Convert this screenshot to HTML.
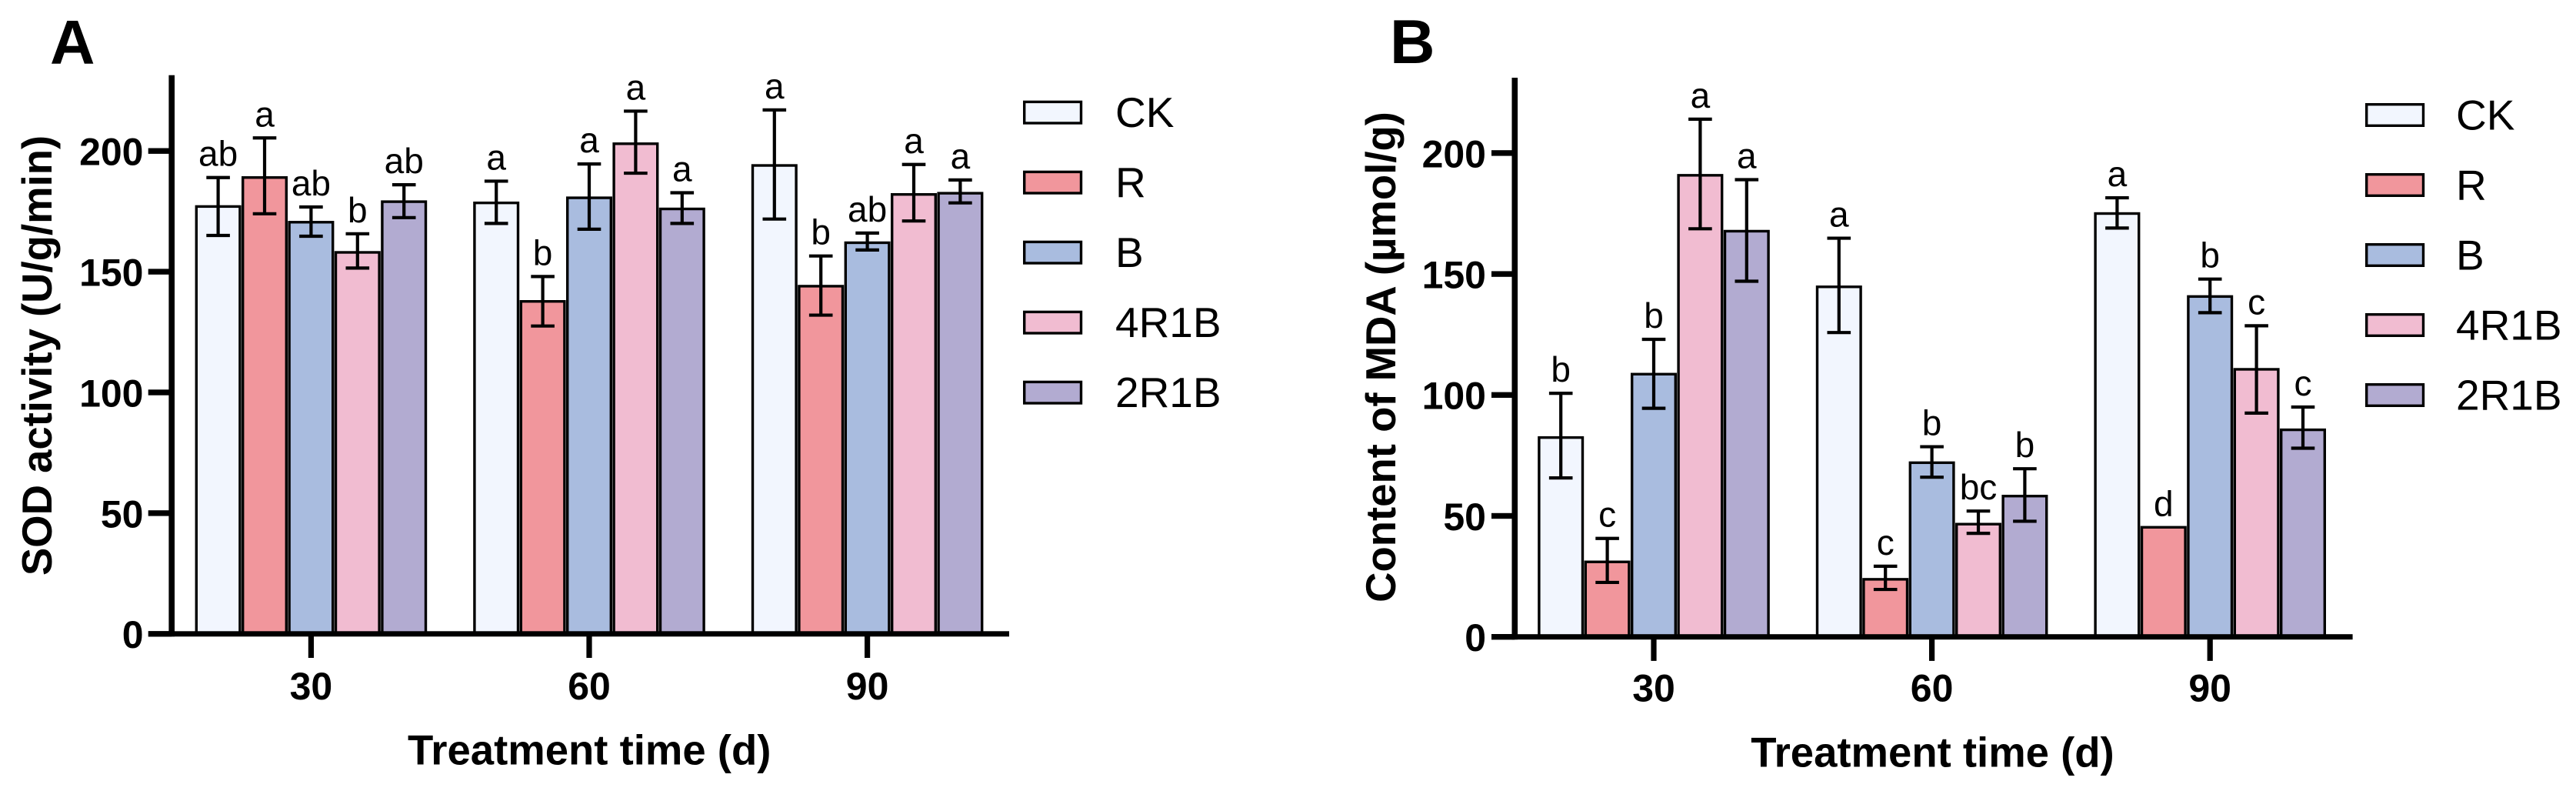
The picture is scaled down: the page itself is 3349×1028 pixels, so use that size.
<!DOCTYPE html>
<html>
<head>
<meta charset="utf-8">
<style>
html,body{margin:0;padding:0;background:#fff;width:3349px;height:1028px;overflow:hidden}
svg{display:block;font-family:"Liberation Sans",Arial,sans-serif}
</style>
</head>
<body>
<svg id="figure" xmlns="http://www.w3.org/2000/svg" width="3349" height="1028" viewBox="0 0 3349 1028"></svg>
<script>
const groups = ["30", "60", "90"];
const seriesNames = ["CK", "R", "B", "4R1B", "2R1B"];
const seriesColors = ["#f2f6fe", "#f1969c", "#a9bcdf", "#f1bcd1", "#b2abd1"];
const yTicks = [0, 50, 100, 150, 200];

/* SOD activity: one row per series, one column per treatment time */
const sodValues = [
  [177, 178.5, 194],
  [189, 137.7, 144],
  [170.5, 180.6, 162],
  [158, 203, 182],
  [179, 176, 182.5]
];
const sodHigh = [
  [189, 187.5, 217],
  [205.4, 148, 156.5],
  [176.8, 194.6, 166],
  [165.7, 216.5, 194.4],
  [186, 182.7, 188]
];
const sodLow = [
  [165, 170, 171.8],
  [174, 127.5, 132],
  [164.7, 167.6, 159],
  [151.5, 190.8, 171],
  [172.4, 170, 178.5]
];
const sodLetters = [
  ["ab", "a", "a"],
  ["a", "b", "b"],
  ["ab", "a", "ab"],
  ["b", "a", "a"],
  ["ab", "a", "a"]
];

/* MDA content: one row per series, one column per treatment time */
const mdaValues = [
  [82.4, 144.7, 175],
  [31, 23.8, 45.3],
  [108.6, 72, 140.7],
  [190.8, 46.6, 110.6],
  [167.7, 58.2, 85.6]
];
const mdaHigh = [
  [100.7, 164.8, 181.5],
  [40.7, 29.2, 45.3],
  [123, 78.6, 147.9],
  [214, 52, 128.6],
  [189, 69.5, 95]
];
const mdaLow = [
  [65.7, 125.8, 169],
  [22.5, 19.6, 45.3],
  [94.5, 66, 134],
  [168.7, 42.8, 92.5],
  [147, 47.8, 78]
];
const mdaLetters = [
  ["b", "a", "a"],
  ["c", "c", "d"],
  ["b", "b", "b"],
  ["a", "bc", "c"],
  ["a", "b", "c"]
];

const svg = document.getElementById("figure");
const NS = "http://www.w3.org/2000/svg";

function mk(parent, tag, attrs, text) {
  const el = document.createElementNS(NS, tag);
  for (const k in attrs) el.setAttribute(k, attrs[k]);
  if (text !== undefined) el.textContent = text;
  parent.appendChild(el);
  return el;
}

function drawPanel(p) {
  const g = mk(svg, "g", {});
  
  

  const yScale = v => p.base - v * p.ppu;
  const xScale = (gi, si) => p.x0 + gi * p.groupStep + (si - 2) * p.seriesStep;

  /* panel letter */
  const letter = mk(g, "text", {x: p.letterX, y: p.letterY, "font-size": 81, "font-weight": 700, fill: "#000"}, p.letter);
  
  

  /* bars */
  const barW = 56.6, sw = 3.4;
  p.values.forEach((row, si) => {
    row.forEach((v, gi) => {
      const cx = xScale(gi, si), yTop = yScale(v);
      const bar = mk(g, "rect", {x: cx - barW / 2, y: yTop, width: barW, height: p.base - yTop, fill: seriesColors[si], stroke: "#000", "stroke-width": sw});
      
      
    });
  });

  /* error bars and significance letters */
  p.values.forEach((row, si) => {
    row.forEach((v, gi) => {
      const cx = xScale(gi, si), hi = p.high[si][gi], lo = p.low[si][gi];
      const yHi = yScale(hi), yLo = yScale(lo), capW = 15.3;
      if (hi !== lo) {
        const path = mk(g, "path", {
          d: "M" + (cx - capW) + " " + yHi + "H" + (cx + capW) + "M" + cx + " " + yHi + "V" + yLo + "M" + (cx - capW) + " " + yLo + "H" + (cx + capW),
          fill: "none", stroke: "#000", "stroke-width": 4.2
        });
        
        
      }
      const lab = mk(g, "text", {x: cx, y: yHi - 15, "font-size": 46, "text-anchor": "middle", fill: "#000"}, p.letters[si][gi]);
      
      
    });
  });

  /* axes */
  const yAxis = mk(g, "rect", {x: p.axisX - 3.8, y: p.axisTop, width: 7.6, height: p.base + 3.5 - p.axisTop, fill: "#000"});
  
  
  const xAxis = mk(g, "rect", {x: p.axisX - 3.8, y: p.base - 3.5, width: p.axisRight - p.axisX + 3.8, height: 7, fill: "#000"});
  
  

  yTicks.forEach(t => {
    const ty = yScale(t);
    const tick = mk(g, "rect", {x: p.tickLeft, y: ty - 3.7, width: p.axisX - p.tickLeft, height: 7.4, fill: "#000"});
    
    
    const lab = mk(g, "text", {x: p.yLabelRight, y: ty + 18.4, "font-size": 50, "font-weight": 700, "text-anchor": "end", fill: "#000"}, String(t));
    
    
  });

  groups.forEach((name, gi) => {
    const cx = xScale(gi, 2);
    const tick = mk(g, "rect", {x: cx - 3.6, y: p.base, width: 7.2, height: 31.2, fill: "#000"});
    
    
    const lab = mk(g, "text", {x: cx, y: p.xLabelY, "font-size": 50, "font-weight": 700, "text-anchor": "middle", fill: "#000"}, name);
    
    
  });

  /* axis titles */
  const xTitle = mk(g, "text", {x: p.xTitleX, y: p.xTitleY, "font-size": 54.5, "font-weight": 700, "text-anchor": "middle", fill: "#000"}, "Treatment time (d)");
  
  
  const yTitle = mk(g, "text", {transform: "translate(" + p.yTitleX + " " + p.yTitleY + ") rotate(-90)", x: 0, y: 0, "font-size": 54.5, "font-weight": 700, "text-anchor": "middle", fill: "#000"}, p.yTitle);
  
  

  /* legend */
  seriesNames.forEach((name, si) => {
    const ly = p.legendTop + si * 91;
    const swatch = mk(g, "rect", {x: p.legendX + 1.7, y: ly + 1.7, width: 73.8, height: 27.6, fill: seriesColors[si], stroke: "#000", "stroke-width": 3.4});
    
    
    const lab = mk(g, "text", {x: p.legendTextX, y: ly + 34.4, "font-size": 55, fill: "#000"}, name);
    
    
  });
}

drawPanel({
  key: "a", letter: "A", letterX: 65, letterY: 82.7,
  values: sodValues, high: sodHigh, low: sodLow, letters: sodLetters,
  base: 823.8, ppu: 3.138, x0: 404.4, groupStep: 361.6, seriesStep: 60.4,
  axisX: 223.2, axisTop: 97.7, axisRight: 1312, tickLeft: 192.7,
  yLabelRight: 186.5, xLabelY: 908.8, xTitleX: 766.2, xTitleY: 993.5,
  yTitle: "SOD activity (U/g/min)", yTitleX: 67, yTitleY: 462,
  legendX: 1330, legendTop: 130.7, legendTextX: 1450
});

drawPanel({
  key: "b", letter: "B", letterX: 1807, letterY: 82,
  values: mdaValues, high: mdaHigh, low: mdaLow, letters: mdaLetters,
  base: 827.7, ppu: 3.144, x0: 2150, groupStep: 361.6, seriesStep: 60.4,
  axisX: 1969.3, axisTop: 101, axisRight: 3058.6, tickLeft: 1939,
  yLabelRight: 1932, xLabelY: 911.5, xTitleX: 2512.5, xTitleY: 996.5,
  yTitle: "Content of MDA (µmol/g)", yTitleX: 1814, yTitleY: 464,
  legendX: 3075, legendTop: 134, legendTextX: 3193
});
</script>
</body>
</html>
